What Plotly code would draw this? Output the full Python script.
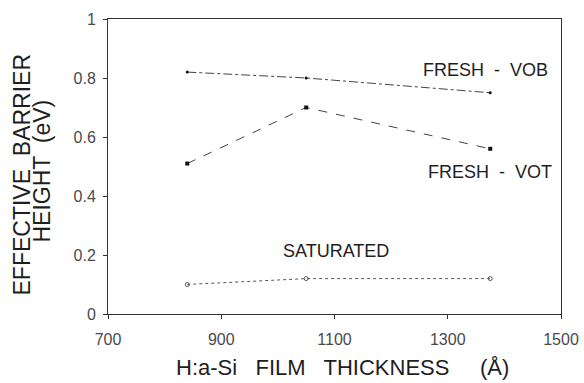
import plotly.graph_objects as go

thickness = [840, 1050, 1375]
fresh_vob = [0.82, 0.80, 0.75]
fresh_vot = [0.51, 0.70, 0.56]
saturated = [0.10, 0.12, 0.12]

x_ticks = [700, 900, 1100, 1300, 1500]
y_ticks = [0, 0.2, 0.4, 0.6, 0.8, 1]
y_tick_text = ["0", "0.2", "0.4", "0.6", "0.8", "1"]

labels = ["FRESH  -  VOB", "FRESH  -  VOT", "SATURATED"]
label_pos = [(1367, 0.827), (1375, 0.481), (1103, 0.212)]

x_title = "H:a-Si   FILM   THICKNESS     (Å)"
y_title_lines = ["EFFECTIVE  BARRIER", "HEIGHT  (eV)"]

font_fam = "Liberation Sans, Arial, sans-serif"
ink = "#1e1e1e"
tick_ink = "#4a4a4a"

fig = go.Figure()
fig.add_trace(go.Scatter(x=thickness, y=fresh_vob, mode="lines+markers",
                         line=dict(color="#444", width=1, dash="dashdot"),
                         marker=dict(symbol="circle", size=3, color="#111")))
fig.add_trace(go.Scatter(x=thickness, y=fresh_vot, mode="lines+markers",
                         line=dict(color="#444", width=1, dash="dash"),
                         marker=dict(symbol="square", size=4, color="#111")))
fig.add_trace(go.Scatter(x=thickness, y=saturated, mode="lines+markers",
                         line=dict(color="#555", width=1, dash="dot"),
                         marker=dict(symbol="circle-open", size=4, color="#555", line=dict(width=1))))

for txt, (lx, ly) in zip(labels, label_pos):
    fig.add_annotation(x=lx, y=ly, text=txt, showarrow=False,
                       font=dict(family=font_fam, size=18, color=ink))

# axis titles (as annotations for tight line spacing)
fig.add_annotation(xref="paper", yref="paper", x=0.5, y=0, xshift=8, yshift=-53,
                   xanchor="center", yanchor="middle", text=x_title, showarrow=False,
                   font=dict(family=font_fam, size=22, color=ink))
fig.add_annotation(xref="paper", yref="paper", x=0, y=0.5, xshift=-87, yshift=-8,
                   xanchor="center", yanchor="middle", text=y_title_lines[0], showarrow=False,
                   textangle=-90, font=dict(family=font_fam, size=23, color=ink))
fig.add_annotation(xref="paper", yref="paper", x=0, y=0.5, xshift=-67, yshift=-5,
                   xanchor="center", yanchor="middle", text=y_title_lines[1], showarrow=False,
                   textangle=-90, font=dict(family=font_fam, size=23, color=ink))

fig.update_layout(
    width=584, height=383, autosize=False,
    margin=dict(l=108, r=23, t=19, b=69),
    paper_bgcolor="white", plot_bgcolor="white",
    showlegend=False,
    font=dict(family=font_fam, color=ink),
)
fig.update_xaxes(range=[700, 1500], tickvals=x_ticks, ticks="outside", ticklen=4,
                 tickcolor="#333", ticklabelstandoff=7, automargin=False,
                 showgrid=False, zeroline=False, showline=True, linecolor="#333",
                 linewidth=1, mirror=True,
                 tickfont=dict(size=16, color=tick_ink))
fig.update_yaxes(range=[0, 1], tickvals=y_ticks, ticktext=y_tick_text, ticks="outside", ticklen=4,
                 tickcolor="#333", ticklabelstandoff=4, automargin=False,
                 showgrid=False, zeroline=False, showline=True, linecolor="#333",
                 linewidth=1, mirror=True,
                 tickfont=dict(size=16, color=tick_ink))

fig.write_html("out.html", config={"displayModeBar": False},
               post_script="document.body.style.margin='0';document.body.style.overflow='hidden';")
